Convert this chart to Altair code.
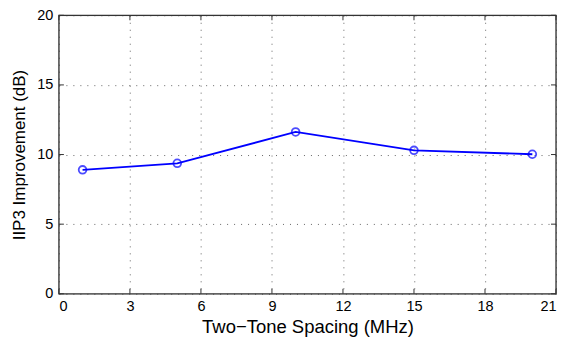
import altair as alt
import pandas as pd

spacing = [1, 5, 10, 15, 20]
improvement = [8.9, 9.37, 11.62, 10.3, 10.02]
x_ticks = [0, 3, 6, 9, 12, 15, 18, 21]
y_ticks = [0, 5, 10, 15, 20]

df = pd.DataFrame({"x": spacing, "y": improvement})
W, H = 498, 279

xs = alt.Scale(domain=[0, 21], nice=False, zero=False)
ys = alt.Scale(domain=[0, 20], nice=False, zero=False)

xaxis = alt.Axis(values=x_ticks, title="Two\u2212Tone Spacing (MHz)", grid=True,
                 gridDash=[1, 6], gridColor="#666", gridWidth=1, tickSize=0,
                 domain=False, labelPadding=6, labelFontSize=14.5, titleFontSize=18.5,
                 titleFontWeight="normal", titlePadding=4, labelColor="#000", titleColor="#000",
                 labelFont="Liberation Sans", titleFont="Liberation Sans")
yaxis = alt.Axis(values=y_ticks, title="IIP3 Improvement (dB)", grid=True,
                 gridDash=[1, 6], gridColor="#666", gridWidth=1, tickSize=0,
                 domain=False, labelPadding=6, labelFontSize=14.5, titleFontSize=17,
                 titleFontWeight="normal", titlePadding=8, labelColor="#000", titleColor="#000",
                 labelFont="Liberation Sans", titleFont="Liberation Sans")

base = alt.Chart(df)
line = base.mark_line(color="#0000FF", strokeWidth=1.8).encode(
    x=alt.X("x:Q", scale=xs, axis=xaxis),
    y=alt.Y("y:Q", scale=ys, axis=yaxis),
)
pts = base.mark_point(shape="circle", filled=False, color="#0000FF", size=60, strokeWidth=1.8).encode(
    x=alt.X("x:Q", scale=xs), y=alt.Y("y:Q", scale=ys)
)

xt = pd.DataFrame({"t": x_ticks})
yt = pd.DataFrame({"t": y_ticks})
tick_color = "#333"
xb = alt.Chart(xt).mark_rule(color=tick_color, strokeWidth=1).encode(
    x=alt.X("t:Q", scale=xs), y=alt.value(H), y2=alt.value(H - 5))
xtp = alt.Chart(xt).mark_rule(color=tick_color, strokeWidth=1).encode(
    x=alt.X("t:Q", scale=xs), y=alt.value(0), y2=alt.value(5))
yl = alt.Chart(yt).mark_rule(color=tick_color, strokeWidth=1).encode(
    y=alt.Y("t:Q", scale=ys), x=alt.value(0), x2=alt.value(5))
yr = alt.Chart(yt).mark_rule(color=tick_color, strokeWidth=1).encode(
    y=alt.Y("t:Q", scale=ys), x=alt.value(W), x2=alt.value(W - 5))

frame_df = pd.DataFrame({"a": [0]})
frame = alt.Chart(frame_df).mark_rect(fill=None, stroke="#333", strokeWidth=1.3).encode(
    x=alt.value(0), x2=alt.value(W), y=alt.value(0), y2=alt.value(H))

chart = alt.layer(line, pts, xb, xtp, yl, yr, frame).properties(
    width=W, height=H,
    autosize=alt.AutoSizeParams(type="none"),
    padding={"left": 51, "top": 7, "right": 1, "bottom": 44},
).configure_view(stroke=None).configure(background="white")

chart.save("out.html", embed_options={"renderer": "svg", "actions": False})
